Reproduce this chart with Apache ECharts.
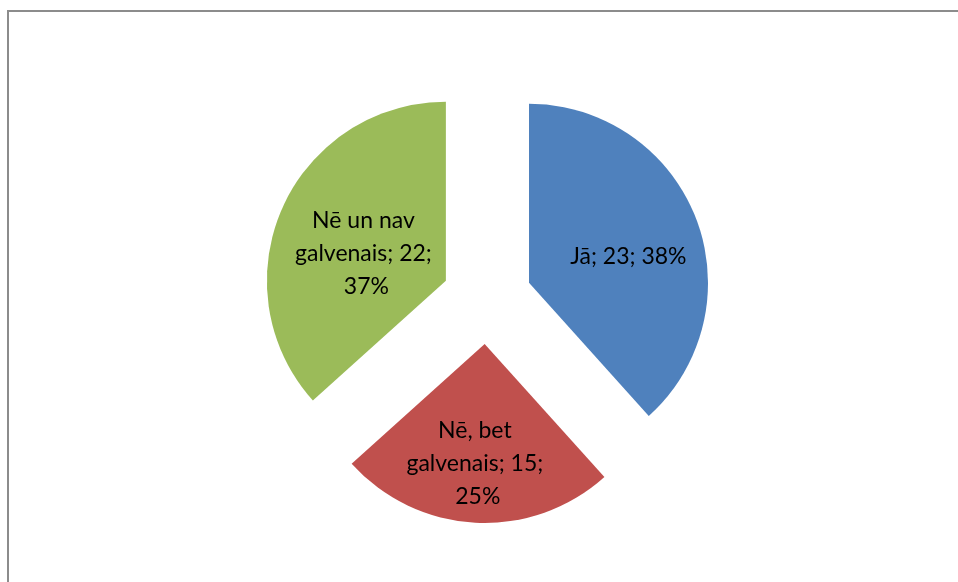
<!DOCTYPE html>
<html>
<head>
<meta charset="utf-8">
<script src="https://cdn.jsdelivr.net/npm/echarts@6/dist/echarts.min.js"></script>
<style>
  html, body { margin: 0; padding: 0; background: #fff; }
  #chart { width: 958px; height: 582px; }
</style>
</head>
<body>
<div id="chart"></div>
<script>
var categories = ['Jā', 'Nē, bet galvenais', 'Nē un nav galvenais'];
var values = [23, 15, 22];
var colors = ['#4F81BD', '#C0504D', '#9BBB59'];
// label nudges so they sit where the original placed them
var labelOffsets = [[13, 7], [-2, 27], [5, 11]];

var chart = echarts.init(document.getElementById('chart'));

var total = values.reduce(function (a, b) { return a + b; }, 0);

chart.setOption({
  animation: false,
  graphic: [{
    type: 'rect',
    shape: { x: 8, y: 11, width: 1000, height: 1000 },
    style: { fill: 'none', stroke: '#8c8c8c', lineWidth: 2 },
    silent: true
  }],
  series: [{
    type: 'pie',
    center: [487, 299],
    radius: [0, 179],
    startAngle: 90,
    clockwise: true,
    selectedMode: 'multiple',
    selectedOffset: 45,
    label: {
      position: 'inside',
      color: '#000',
      fontFamily: 'Lato',
      fontSize: 23,
      lineHeight: 33,
      width: 165,
      overflow: 'break',
      align: 'center',
      formatter: function (p) {
        return p.name + '; ' + p.value + '; ' + Math.round(p.value / total * 100) + '%';
      }
    },
    labelLayout: function (params) {
      var o = labelOffsets[params.dataIndex];
      return { dx: o[0], dy: o[1] };
    },
    labelLine: { show: false },
    emphasis: { disabled: true },
    data: categories.map(function (c, i) {
      return {
        name: c,
        value: values[i],
        selected: true,
        itemStyle: { color: colors[i] },
        select: { itemStyle: { color: colors[i] } }
      };
    })
  }]
});
</script>
</body>
</html>
